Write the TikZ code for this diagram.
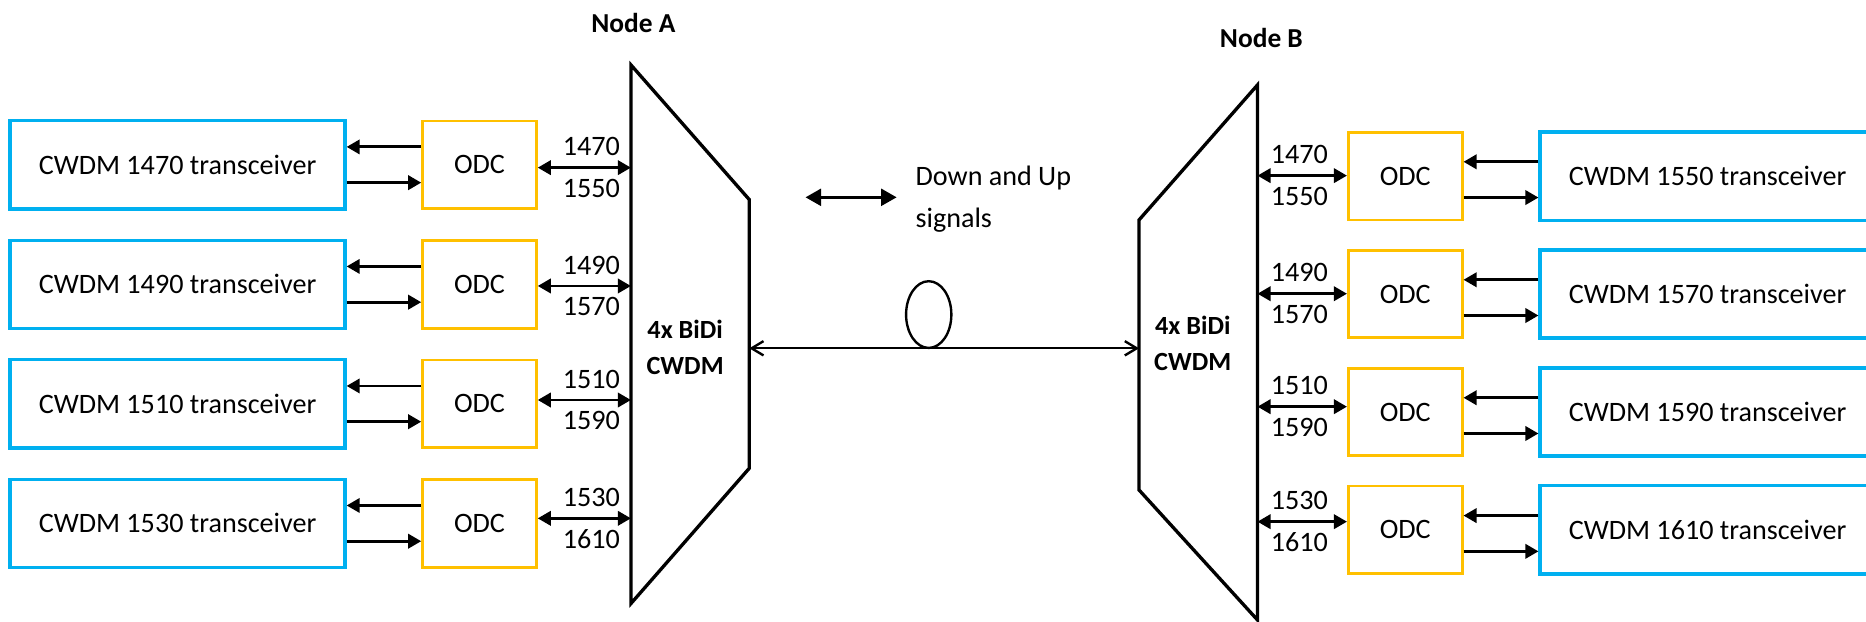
\documentclass[tikz,border=0pt]{standalone}
\usepackage{fontspec}
\setmainfont{Carlito}
\usetikzlibrary{arrows.meta,calc,shapes.geometric}
\definecolor{trxblue}{HTML}{00B0F0}
\definecolor{odcorange}{HTML}{FFC000}
\tikzset{
  trx/.style={draw=trxblue, line width=1.4pt, minimum width=140.5pt, minimum height=37pt, inner sep=0pt, font=\fontsize{11.8}{14}\selectfont},
  odc/.style={draw=odcorange, line width=1.2pt, minimum width=47.7pt, minimum height=36.8pt, inner sep=0pt, font=\fontsize{11.8}{14}\selectfont},
  lbl/.style={inner sep=0pt, font=\fontsize{11.8}{14}\selectfont},
  bld/.style={inner sep=0pt, font=\fontsize{11}{13}\selectfont\bfseries},
  ttl/.style={inner sep=0pt, font=\fontsize{11.5}{13}\selectfont\bfseries},
  arr/.style={line width=1.2pt, -{Triangle[length=5.5pt,width=6pt]}},
  darr/.style={line width=1.2pt, {Triangle[length=5.5pt,width=6pt]}-{Triangle[length=5.5pt,width=6pt]}},
  legarr/.style={line width=1.3pt, {Triangle[length=6.5pt,width=7pt]}-{Triangle[length=6.5pt,width=7pt]}},
  fib/.style={line width=1pt, {Straight Barb[length=5pt,width=6pt]}-{Straight Barb[length=5pt,width=6pt]}},
  trap/.style={line width=1.4pt, line join=miter},
}
\begin{document}
\begin{tikzpicture}[x=0.5pt,y=-0.5pt]
\useasboundingbox (0,0) rectangle (1566,522);
\clip (0,0) rectangle (1566,522);
% titles
\node[ttl] (nA) at (531.5,19) {Node A};
\node[ttl] (nB) at (1058.6,32) {Node B};
% trapezoid A
\coordinate (tA1) at (529.5,54.5);
\coordinate (tA2) at (628.8,167.5);
\coordinate (tA3) at (628.8,393);
\coordinate (tA4) at (529.5,506.5);
\draw[trap] (tA1) -- (tA2) -- (tA3) -- (tA4) -- cycle;
\node[bld] (bA1) at (575,276) {4x BiDi};
\node[bld] (bA2) at (575,307) {CWDM};
% trapezoid B
\coordinate (tB1) at (1055.3,71.3);
\coordinate (tB2) at (955.9,184.6);
\coordinate (tB3) at (955.9,411.2);
\coordinate (tB4) at (1055.3,520.3);
\draw[trap] (tB1) -- (tB2) -- (tB3) -- (tB4) -- cycle;
\node[bld] (bB1) at (1001,273) {4x BiDi};
\node[bld] (bB2) at (1001,304) {CWDM};
% fiber
\coordinate (fA) at (628.8,292.3);
\coordinate (fB) at (955.9,292.3);
\draw[fib] (fA) -- (fB);
\node[draw, ellipse, line width=1pt, minimum width=19pt, minimum height=28pt, inner sep=0pt] (loop) at (779.4,264) {};
% legend
\coordinate (la) at (676,165.6);
\coordinate (lb) at (752.5,165.6);
\draw[legarr] (la) -- (lb);
\node[lbl, anchor=west, align=left, font=\fontsize{11.8}{17.5}\selectfont] (leg) at (768,167) {Down and Up\\signals};
% left rows
\foreach \i/\cy/\dy/\wa/\wb in {1/138.3/2.4/1470/1550, 2/238.6/1.4/1490/1570, 3/338.9/-3.2/1510/1590, 4/439.2/-4.2/1530/1610}{
  \node[trx] (trA\i) at (149,\cy) {CWDM \wa\ transceiver};
  \node[odc] (odcA\i) at (402.4,\cy) {ODC\hspace{6.5pt}};
  \draw[arr] ($(odcA\i.west)+(0,-15)$) -- ($(trA\i.east)+(0,-15)$);
  \draw[arr] ($(trA\i.east)+(0,15)$) -- ($(odcA\i.west)+(0,15)$);
  \coordinate (pA\i) at ($(odcA\i.east)+(0,\dy)$);
  \draw[darr] (pA\i) -- (pA\i -| tA1);
  \node[lbl] at ($(pA\i)+(45,-17.5)$) {\wa};
  \node[lbl] at ($(pA\i)+(45,17.5)$) {\wb};
}
% right rows
\foreach \i/\cy/\dy/\wa/\wb in {1/147.8/-0.4/1470/1550, 2/246.8/-0.3/1490/1570, 3/345.8/-4.5/1510/1590, 4/444.7/-6.9/1530/1610}{
  \node[odc] (odcB\i) at (1179.3,\cy) {ODC\hspace{6.5pt}};
  \node[trx] (trB\i) at (1433,\cy) {CWDM \wb\ transceiver};
  \draw[arr] ($(trB\i.west)+(0,-12)$) -- ($(odcB\i.east)+(0,-12)$);
  \draw[arr] ($(odcB\i.east)+(0,18)$) -- ($(trB\i.west)+(0,18)$);
  \coordinate (pB\i) at ($(odcB\i.west)+(0,\dy)$);
  \draw[darr] (pB\i) -- (pB\i -| tB1);
  \node[lbl] at ($(pB\i)+(-40,-17.5)$) {\wa};
  \node[lbl] at ($(pB\i)+(-40,17.5)$) {\wb};
}
\end{tikzpicture}
\end{document}
